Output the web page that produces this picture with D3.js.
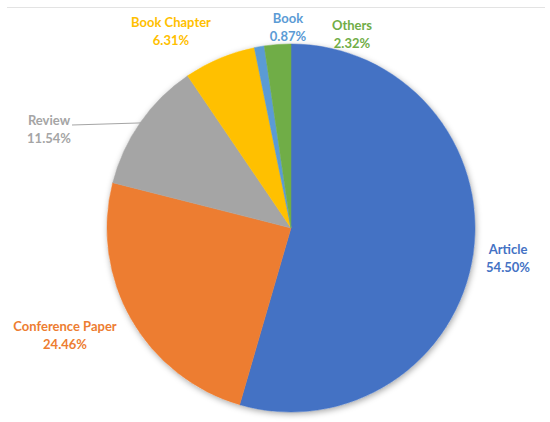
<!DOCTYPE html>
<html>
<head>
<meta charset="utf-8">
<script src="https://cdn.jsdelivr.net/npm/d3@7"></script>
<style>
  body { margin: 0; background: #fff; }
  text { font-family: Lato, "Noto Sans", sans-serif; font-weight: bold; }
</style>
</head>
<body>
<div id="chart"></div>
<script>
// document types and their share (%)
var categories = ["Article", "Conference Paper", "Review", "Book Chapter", "Book", "Others"];
var shares = [54.50, 24.46, 11.54, 6.31, 0.87, 2.32];
var colors = ["#4472C4", "#ED7D31", "#A5A5A5", "#FFC000", "#5B9BD5", "#70AD47"];

// label anchor (centre of the two-line label), layout only
var labelAt = [[508, 254], [65, 331], [49, 125], [171, 27], [288, 23], [352, 30]];

var width = 550, height = 422;
var cx = 291, cy = 228, radius = 184;

var svg = d3.select("#chart")
            .append("svg")
            .attr("width", width)
            .attr("height", height);

var defs = svg.append("defs");
var f = defs.append("filter")
            .attr("id", "shadow")
            .attr("x", "-10%").attr("y", "-10%")
            .attr("width", "120%").attr("height", "120%");
f.append("feDropShadow")
 .attr("dx", 1).attr("dy", 2)
 .attr("stdDeviation", 3)
 .attr("flood-color", "#000")
 .attr("flood-opacity", 0.35);

// thin frame line at the top
svg.append("line")
   .attr("x1", 7).attr("x2", 545)
   .attr("y1", 7.5).attr("y2", 7.5)
   .style("stroke", "#e3e3e3")
   .style("stroke-width", 1);

var pie = d3.pie().sort(null).value(function(d){ return d; });
var arcs = pie(shares);
var arc = d3.arc().innerRadius(0).outerRadius(radius);

var g = svg.append("g")
           .attr("transform", "translate(" + cx + "," + cy + ")");

g.append("circle")
 .attr("r", radius)
 .style("fill", "#fff")
 .attr("filter", "url(#shadow)");

g.selectAll("path.slice")
 .data(arcs)
 .enter()
 .append("path")
 .attr("class", "slice")
 .attr("d", arc)
 .style("fill", function(d, i){ return colors[i]; })
 .style("stroke", function(d, i){ return colors[i]; })
 .style("stroke-width", 0.5);

// leader line for Review
var rv = arcs[2];
var mid = (rv.startAngle + rv.endAngle) / 2;
var ex = cx + Math.sin(mid) * radius * 0.995;
var ey = cy - Math.cos(mid) * radius * 0.995;
svg.append("polyline")
   .attr("points", [[72, 125], [ex, ey]].map(function(p){ return p.join(","); }).join(" "))
   .style("fill", "none")
   .style("stroke", "#A5A5A5")
   .style("stroke-width", 1);

var lab = svg.selectAll("g.lab")
             .data(categories)
             .enter()
             .append("g")
             .attr("class", "lab")
             .attr("transform", function(d, i){ return "translate(" + labelAt[i][0] + "," + labelAt[i][1] + ")"; })
             .style("fill", function(d, i){ return colors[i]; });

lab.append("text")
   .attr("text-anchor", "middle")
   .style("font-size", "13px")
   .text(function(d){ return d; });

lab.append("text")
   .attr("text-anchor", "middle")
   .attr("y", 18)
   .style("font-size", "13px")
   .text(function(d, i){ return shares[i].toFixed(2) + "%"; });
</script>
</body>
</html>
